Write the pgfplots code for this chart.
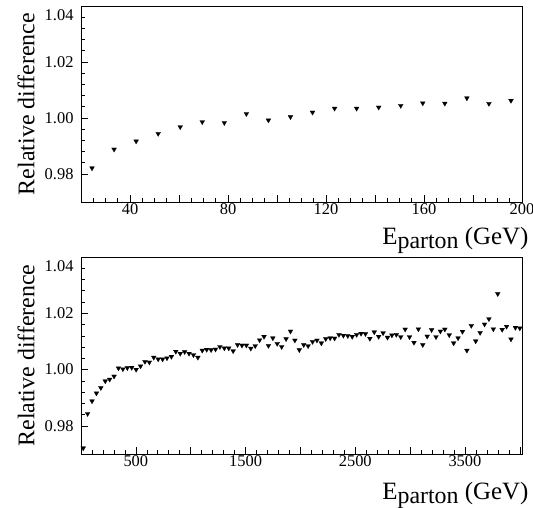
\documentclass[border=0pt]{standalone}
\usepackage{fontspec}
\setmainfont{Liberation Serif}
\usepackage{pgfplots}
\pgfplotsset{compat=1.18}
\begin{document}
\begin{tikzpicture}
\useasboundingbox (0bp,0bp) rectangle (533bp,-508bp);
\pgfplotsset{
  rootax/.style={
    scale only axis, width=441bp,
    anchor=north west,
    xtick pos=lower, ytick pos=left,
    tick align=inside,
    major tick length=7bp, minor tick length=3.5bp,
    every tick/.style={black, line width=0.6bp},
    axis line style={line width=0.8bp},
    /pgf/number format/assume math mode=true,
    tick label style={font=\fontsize{16.5}{18}\selectfont},
    yticklabel style={xshift=-4bp},
    xticklabel style={yshift=2bp},
    ymin=0.97, ymax=1.04,
    ytick={0.98,1.00,1.02,1.04},
    yticklabels={0.98,1.00,1.02,\smash{\raisebox{-14bp}{1.04}}},
    minor y tick num=4,
    label style={font=\fontsize{24}{26}\selectfont},
    ylabel={Relative difference},
    ylabel style={at={(rel axis cs:0,0.5)}, anchor=center, yshift=55bp},
    xlabel={E\raisebox{-3.5bp}{\fontsize{24}{25}\selectfont parton} (GeV)},
    xlabel style={at={(rel axis cs:1,0)}, anchor=base east, xshift=10bp, font=\fontsize{25}{27}\selectfont},
    mk/.style={only marks, mark=triangle*, mark size=2.8bp, mark options={rotate=180, fill=black, draw=black, line width=0.2bp}},
  }
}
\begin{axis}[rootax, at={(81bp,-6bp)}, height=196bp,
  xmin=20, xmax=200,
  xtick={20,40,...,200},
  xticklabels={,40,,80,,120,,160,,200},
  minor x tick num=3,
  xlabel style={yshift=-43bp},
]
\addplot[mk] coordinates {
(24.5,0.9821) (33.5,0.9888) (42.5,0.9917) (51.5,0.9944) (60.5,0.9968)
(69.5,0.9986) (78.5,0.9983) (87.5,1.0015) (96.5,0.9992) (105.5,1.0004)
(114.5,1.0020) (123.5,1.0034) (132.5,1.0034) (141.5,1.0038) (150.5,1.0044)
(159.5,1.0053) (168.5,1.0052) (177.5,1.0071) (186.5,1.0051) (195.5,1.0062)
};
\end{axis}
\begin{axis}[rootax, at={(81bp,-257bp)}, height=197bp,
  xmin=0, xmax=4020,
  xtick={0,500,...,4000},
  xticklabels={,500,,1500,,2500,,3500,},
  minor x tick num=4,
  xlabel style={yshift=-46bp},
]
\addplot[mk] coordinates {
(20.1,0.9721) (60.3,0.9843) (100.5,0.9888) (140.7,0.9916) (180.9,0.9935)
(221.1,0.9959) (261.3,0.9965) (301.5,0.9976) (341.7,1.0005) (381.9,1.0002)
(422.1,1.0006) (462.3,1.0007) (502.5,1.0000) (542.7,1.0012) (582.9,1.0028)
(623.1,1.0026) (663.3,1.0043) (703.5,1.0037) (743.7,1.0037) (783.9,1.0041)
(824.1,1.0046) (864.3,1.0064) (904.5,1.0057) (944.7,1.0063) (984.9,1.0057)
(1025.1,1.0052) (1065.3,1.0043) (1105.5,1.0068) (1145.7,1.0071) (1185.9,1.0070)
(1226.1,1.0072) (1266.3,1.0081) (1306.5,1.0076) (1346.7,1.0076) (1386.9,1.0066)
(1427.1,1.0088) (1467.3,1.0086) (1507.5,1.0086) (1547.7,1.0075) (1587.9,1.0084)
(1628.1,1.0105) (1668.3,1.0117) (1708.5,1.0085) (1748.7,1.0112) (1788.9,1.0092)
(1829.1,1.0081) (1869.3,1.0109) (1909.5,1.0136) (1949.7,1.0104) (1989.9,1.0070)
(2030.1,1.0088) (2070.3,1.0084) (2110.5,1.0099) (2150.7,1.0104) (2190.9,1.0094)
(2231.1,1.0109) (2271.3,1.0112) (2311.5,1.0111) (2351.7,1.0124) (2391.9,1.0121)
(2432.1,1.0120) (2472.3,1.0117) (2512.5,1.0124) (2552.7,1.0128) (2592.9,1.0127)
(2633.1,1.0110) (2673.3,1.0133) (2713.5,1.0117) (2753.7,1.0130) (2793.9,1.0114)
(2834.1,1.0122) (2874.3,1.0124) (2914.5,1.0116) (2954.7,1.0143) (2994.9,1.0116)
(3035.1,1.0096) (3075.3,1.0144) (3115.5,1.0088) (3155.7,1.0118) (3195.9,1.0141)
(3236.1,1.0116) (3276.3,1.0136) (3316.5,1.0143) (3356.7,1.0123) (3396.9,1.0094)
(3437.1,1.0112) (3477.3,1.0135) (3517.5,1.0068) (3557.7,1.0156) (3597.9,1.0101)
(3638.1,1.0131) (3678.3,1.0161) (3718.5,1.0180) (3758.7,1.0144) (3798.9,1.0269)
(3839.1,1.0142) (3879.3,1.0153) (3919.5,1.0108) (3959.7,1.0149) (3999.9,1.0147)
};
\end{axis}
\end{tikzpicture}
\end{document}
